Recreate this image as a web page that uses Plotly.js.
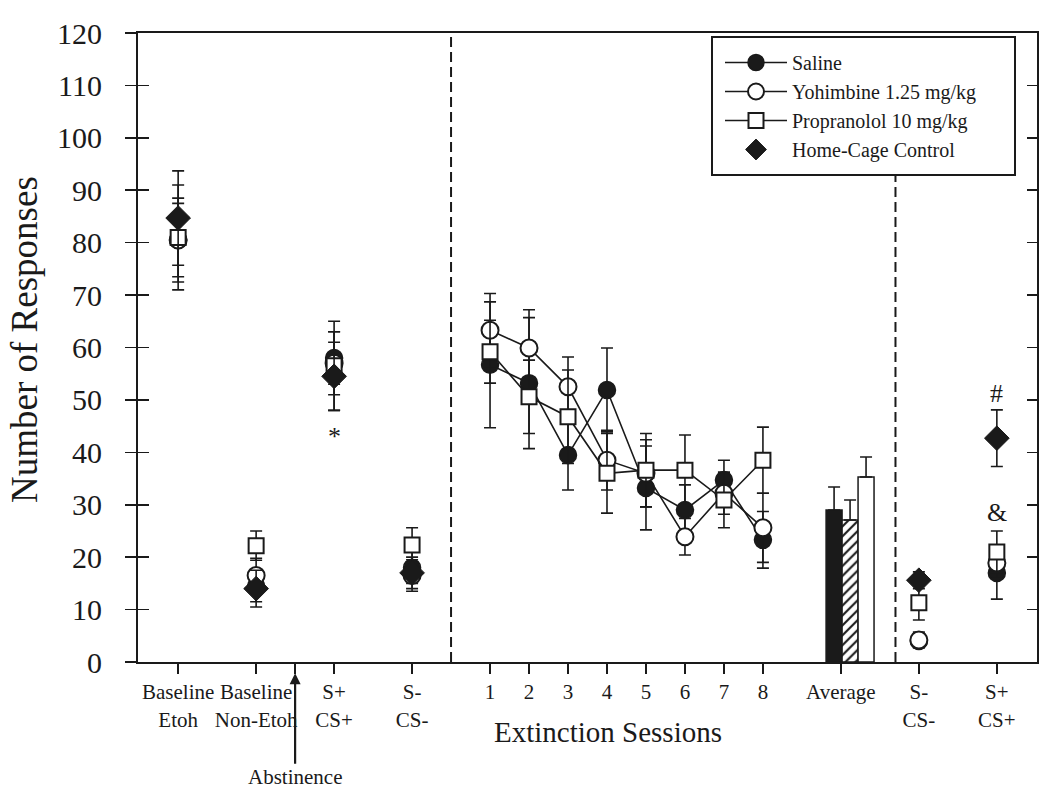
<!DOCTYPE html>
<html>
<head>
<meta charset="utf-8">
<script src="https://cdn.plot.ly/plotly-3.0.1.min.js"></script>
<style>html,body{margin:0;padding:0;background:#fff;}#chart{width:1050px;height:802px;}</style>
</head>
<body>
<div id="chart"></div>
<script>
// ---- data ----
const groupNames = ['Saline', 'Yohimbine 1.25 mg/kg', 'Propranolol 10 mg/kg', 'Home-Cage Control'];
const phaseLabels = ['Baseline<br>Etoh', 'Baseline<br>Non-Etoh', 'S+<br>CS+', 'S-<br>CS-'];
const sessionLabels = ['1', '2', '3', '4', '5', '6', '7', '8'];
const averageLabel = 'Average';
const testLabels = ['S-<br>CS-', 'S+<br>CS+'];

const salinePre = [80.5, 14.5, 58, 18];
const salinePreErr = [8, 3, 5, 3];
const yohPre = [80.5, 16.5, 57, 16.5];
const yohPreErr = [7, 3.3, 6, 3];
const propPre = [81, 22.2, 56.5, 22.3];
const propPreErr = [10, 2.8, 8.5, 3.3];
const homePre = [84.7, 14, 54.5, 17];
const homePreErr = [9, 3.5, 6.5, 3];

const salineExt = [56.7, 53.2, 39.5, 51.9, 33.2, 29, 34.7, 23.3];
const salineExtErr = [12, 12.5, 6.7, 8, 8, 4.8, 3.8, 5.4];
const yohExt = [63.3, 59.9, 52.5, 38.5, 36, 23.9, 32.2, 25.6];
const yohExtErr = [7, 7.3, 5.7, 5.7, 6.4, 3.5, 4, 6.6];
const propExt = [59.2, 50.6, 46.8, 36, 36.6, 36.6, 30.9, 38.5];
const propExtErr = [6, 7, 8.9, 7.6, 7, 6.7, 5.3, 6.3];

const averageVals = [29, 27.1, 35.3];
const averageErr = [4.4, 3.8, 3.8];

const salineTest = [4, 17];
const salineTestErr = [1, 5];
const yohTest = [4.2, 18.9];
const yohTestErr = [1.5, 3];
const propTest = [11.3, 21];
const propTestErr = [3.3, 4];
const homeTest = [15.6, 42.7];
const homeTestErr = [1.6, 5.4];

const sigMarks = [
  {label: '*', cat: 'S+ CS+ (pre)', value: 43},
  {label: '#', cat: 'S+ CS+ (test)', value: 51.3},
  {label: '&', cat: 'S+ CS+ (test)', value: 28.6}
];

// ---- axis layout (category positions on a numeric axis) ----
const phasePos = [-7, -5, -3, -1];
const abstinencePos = -4;
const sessionPos = [1, 2, 3, 4, 5, 6, 7, 8];
const averagePos = 10;
const testPos = [12, 14];
const dividerPos = [0, 11.4];
const catPos = {'S+ CS+ (pre)': -3, 'S+ CS+ (test)': 14};

const FONT = 'Liberation Serif, Times New Roman, serif';
const INK = '#1a1a1a';

function errs(a) { return {type: 'data', array: a, visible: true, color: INK, thickness: 1.6, width: 6}; }

const styles = [
  {symbol: 'circle', size: 17, color: INK, line: {color: INK, width: 1.5}},
  {symbol: 'circle', size: 17, color: '#fff', line: {color: INK, width: 2}},
  {symbol: 'square', size: 15, color: '#fff', line: {color: INK, width: 2}},
  {symbol: 'diamond', size: 19, color: INK, line: {color: INK, width: 1}}
];

const pre = [[salinePre, salinePreErr], [yohPre, yohPreErr], [propPre, propPreErr], [homePre, homePreErr]];
const ext = [[salineExt, salineExtErr], [yohExt, yohExtErr], [propExt, propExtErr]];
const test = [[salineTest, salineTestErr], [yohTest, yohTestErr], [propTest, propTestErr], [homeTest, homeTestErr]];

const traces = [];
// average bars
const barStyles = [
  {color: INK, pattern: {shape: ''}},
  {color: '#fff', pattern: {shape: '/', fgcolor: INK, bgcolor: '#fff', size: 7, solidity: 0.3}},
  {color: '#fff', pattern: {shape: ''}}
];
const barOffsets = [-0.38, 0.03, 0.44];
for (let i = 0; i < 3; i++) {
  traces.push({
    type: 'bar', x: [averagePos], y: [averageVals[i]], width: 0.41, offset: barOffsets[i],
    marker: {color: barStyles[i].color, pattern: barStyles[i].pattern, line: {color: INK, width: 1.5}},
    error_y: {type: 'data', symmetric: false, array: [averageErr[i]], arrayminus: [0], color: INK, thickness: 1.6, width: 6},
    showlegend: false, hoverinfo: 'skip'
  });
}
// extinction lines (legend)
for (let g = 0; g < 3; g++) {
  traces.push({
    type: 'scatter', mode: 'lines+markers', name: groupNames[g], legendrank: g + 1,
    x: sessionPos, y: ext[g][0], error_y: errs(ext[g][1]),
    line: {color: INK, width: 1.6},
    marker: {symbol: styles[g].symbol, size: styles[g].size, color: styles[g].color, line: styles[g].line}
  });
}
// pre and test points
for (let g = 0; g < 4; g++) {
  traces.push({
    type: 'scatter', mode: 'markers', name: groupNames[g], legendrank: g + 1,
    showlegend: g === 3,
    x: phasePos.concat(testPos), y: pre[g][0].concat(test[g][0]),
    error_y: errs(pre[g][1].concat(test[g][1])),
    marker: {symbol: styles[g].symbol, size: styles[g].size, color: styles[g].color, line: styles[g].line}
  });
}

const tickvals = [phasePos[0], phasePos[1], abstinencePos, phasePos[2], phasePos[3]]
  .concat(sessionPos, [averagePos], testPos);
const ticktext = [phaseLabels[0], phaseLabels[1], '', phaseLabels[2], phaseLabels[3]]
  .concat(sessionLabels, [averageLabel], testLabels);

const shapes = dividerPos.map(p => ({
  type: 'line', xref: 'x', yref: 'paper', x0: p, x1: p, y0: 0, y1: 1,
  line: {color: INK, width: 2, dash: '10px,5px'}
}));
shapes.push({type: 'rect', xref: 'paper', yref: 'paper',
  x0: (712 - 138) / 899, x1: (1015 - 138) / 899, y0: (662 - 175) / 629, y1: (662 - 37) / 629,
  line: {color: INK, width: 2}, fillcolor: '#ffffff'});

const annotations = sigMarks.map(m => ({
  x: catPos[m.cat], y: m.value, xref: 'x', yref: 'y', text: m.label, showarrow: false,
  font: {family: FONT, size: 26, color: INK}
}));
annotations.push({
  x: abstinencePos, y: -0.018, xref: 'x', yref: 'paper', text: 'Abstinence',
  showarrow: true, ax: 0, ay: 104, axref: 'pixel', ayref: 'pixel',
  arrowhead: 2, arrowsize: 1, arrowwidth: 2.2, arrowcolor: INK,
  font: {family: FONT, size: 21, color: INK}
});
annotations.push({
  x: 4.03, y: -0.111, xref: 'x', yref: 'paper', xanchor: 'center', yanchor: 'middle',
  text: 'Extinction Sessions', showarrow: false,
  font: {family: FONT, size: 29, color: INK}
});
annotations.push({
  x: (24 - 138) / 899, y: (662 - 340) / 629, xref: 'paper', yref: 'paper', xanchor: 'center', yanchor: 'middle',
  text: 'Number of Responses',
  textangle: -90, showarrow: false, font: {family: FONT, size: 37, color: INK}
});

const layout = {
  width: 1050, height: 802,
  margin: {l: 138, r: 13, t: 33, b: 140},
  paper_bgcolor: '#fff', plot_bgcolor: '#fff',
  font: {family: FONT, color: INK},
  showlegend: true,
  legend: {
    x: (720 - 138) / 899, y: (662 - 43) / 629, xanchor: 'left', yanchor: 'top',
    bgcolor: 'rgba(0,0,0,0)', borderwidth: 0, itemwidth: 62,
    font: {family: FONT, size: 20, color: INK}, tracegroupgap: 0
  },
  xaxis: {
    range: [-8.03, 15.03], showgrid: false, zeroline: false,
    showline: true, linecolor: INK, linewidth: 2, mirror: true,
    ticks: 'outside', ticklen: 10, tickwidth: 1.6, tickcolor: INK,
    tickmode: 'array', tickvals: tickvals, ticktext: ticktext, tickangle: 0,
    tickfont: {family: FONT, size: 21, color: INK}
  },
  yaxis: {
    range: [0, 120], showgrid: false, zeroline: false,
    showline: true, linecolor: INK, linewidth: 2, mirror: true,
    ticks: 'outside', ticklen: 11, tickwidth: 1.6, tickcolor: INK,
    tickmode: 'linear', tick0: 0, dtick: 10, ticklabelstandoff: 17,
    tickfont: {family: FONT, size: 30, color: INK}
  },
  yaxis2: {
    range: [0, 120], overlaying: 'y', side: 'left', showgrid: false, zeroline: false,
    showline: false, ticks: 'inside', ticklen: 11, tickwidth: 1.6, tickcolor: INK,
    tickmode: 'linear', tick0: 0, dtick: 10, showticklabels: false
  },
  yaxis3: {
    range: [0, 120], overlaying: 'y', side: 'right', showgrid: false, zeroline: false,
    showline: false, ticks: 'inside', ticklen: 10, tickwidth: 1.6, tickcolor: INK,
    tickmode: 'linear', tick0: 0, dtick: 10, showticklabels: false
  },
  shapes: shapes,
  annotations: annotations
};

// dummy invisible traces to activate the extra tick axes
traces.push({type: 'scatter', x: [null], y: [null], yaxis: 'y2', showlegend: false, hoverinfo: 'skip'});
traces.push({type: 'scatter', x: [null], y: [null], yaxis: 'y3', showlegend: false, hoverinfo: 'skip'});

Plotly.newPlot('chart', traces, layout, {staticPlot: true, displayModeBar: false});
</script>
</body>
</html>
